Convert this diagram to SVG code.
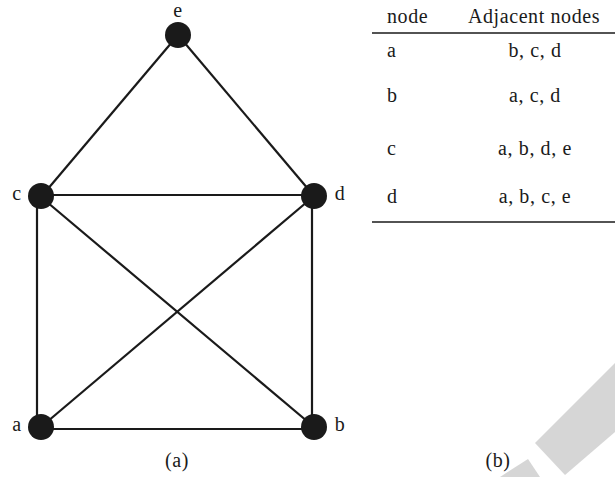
<svg xmlns="http://www.w3.org/2000/svg" width="615" height="477" viewBox="0 0 615 477">
<style>
.edge{stroke:#1a1a1a;stroke-width:2.2;fill:none}
.node{fill:#1a1a1a}
.lbl{font-family:"Liberation Serif",serif;font-size:20px;letter-spacing:0.6px;fill:#1a1a1a}
.tbl{font-family:"Liberation Serif",serif;font-size:20px;letter-spacing:0.6px;fill:#1a1a1a}
.rule{stroke:#1a1a1a;stroke-width:1.6}
.wm{fill:#d6d6d6}
</style>
<rect width="615" height="477" fill="#ffffff"/>
<g id="watermark">
<polygon class="wm" points="615,363 535,443 565,475 615,432"/>
<polygon class="wm" points="500,477 528,459 540,477"/>
</g>
<g id="connectors">
<line class="edge" x1="178" y1="35" x2="41" y2="197"/>
<line class="edge" x1="178" y1="35" x2="314" y2="196"/>
<line class="edge" x1="41" y1="195" x2="314" y2="195"/>
<line class="edge" x1="37" y1="197" x2="37" y2="427"/>
<line class="edge" x1="312" y1="196" x2="312" y2="427"/>
<line class="edge" x1="41" y1="429" x2="314" y2="429"/>
<line class="edge" x1="41" y1="197" x2="314" y2="427"/>
<line class="edge" x1="314" y1="196" x2="41" y2="427"/>
</g>
<g id="node-e"><circle class="node" cx="178" cy="35" r="13"/><text class="lbl" x="178" y="17" text-anchor="middle">e</text></g>
<g id="node-c"><circle class="node" cx="41" cy="196" r="13"/><text class="lbl" x="17" y="200" text-anchor="middle">c</text></g>
<g id="node-d"><circle class="node" cx="314" cy="196" r="13"/><text class="lbl" x="340" y="200" text-anchor="middle">d</text></g>
<g id="node-a"><circle class="node" cx="41" cy="427" r="13"/><text class="lbl" x="17" y="431" text-anchor="middle">a</text></g>
<g id="node-b"><circle class="node" cx="314" cy="427" r="13"/><text class="lbl" x="340" y="431" text-anchor="middle">b</text></g>
<g id="caption-a"><text class="lbl" x="177" y="467" text-anchor="middle">(a)</text></g>
<g id="table">
<text class="tbl" x="387" y="23">node</text>
<text class="tbl" x="534" y="23" text-anchor="middle">Adjacent nodes</text>
<line class="rule" x1="372" y1="33" x2="615" y2="33"/>
<text class="tbl" x="387" y="57">a</text>
<text class="tbl" x="535" y="57" text-anchor="middle">b, c, d</text>
<text class="tbl" x="387" y="102">b</text>
<text class="tbl" x="535" y="102" text-anchor="middle">a, c, d</text>
<text class="tbl" x="387" y="155">c</text>
<text class="tbl" x="535" y="155" text-anchor="middle">a, b, d, e</text>
<text class="tbl" x="387" y="203">d</text>
<text class="tbl" x="535" y="203" text-anchor="middle">a, b, c, e</text>
<line class="rule" x1="372" y1="222" x2="615" y2="222"/>
</g>
<g id="caption-b"><text class="lbl" x="498" y="467" text-anchor="middle">(b)</text></g>
</svg>
